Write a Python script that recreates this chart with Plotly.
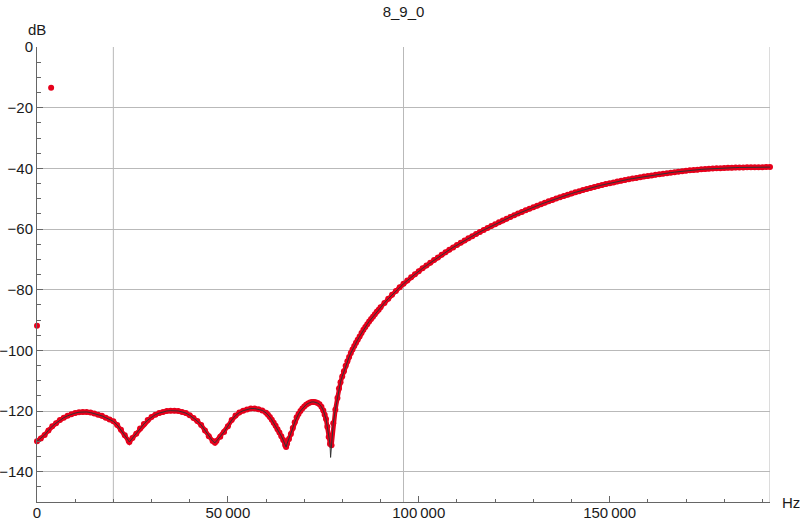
import plotly.graph_objects as go

title_text = "8_9_0"
x_label = "Hz"
y_label = "dB"

# Sampled response (frequency in kHz, level in dB)
curve_khz = [
    0, 1, 2, 3, 4, 5, 6, 7, 8, 9, 10, 11, 12, 13, 14, 15, 16, 17, 18, 19,
    20, 21, 22, 23, 24, 24.2, 25, 26, 27, 28, 29, 30, 31, 32, 33, 34, 35, 36, 37, 38,
    39, 40, 41, 42, 43, 44, 45, 46, 46.6, 47, 48, 49, 50, 51, 52, 53, 54, 55, 56, 57,
    58, 59,
    60, 60.5, 61, 61.5, 62, 62.5, 63, 63.5, 64, 64.5, 65, 65.25, 65.5, 66, 66.5, 67,
    67.5, 68, 68.5, 69, 69.5, 70, 70.5, 71, 71.5, 72, 72.5, 73, 73.5, 74, 74.5, 75,
    75.35, 75.7, 76.05, 76.4, 76.75, 77.15, 77.6, 78.15, 78.7, 79.1, 79.5, 79.95,
    80.4, 80.85, 81.3, 81.75, 82.2, 82.65, 83.1, 83.55, 84, 84.5, 85, 85.5, 86, 86.5,
    87, 87.5, 88, 88.5, 89, 89.5, 90,
    91, 92, 93, 94, 95, 96, 97, 98, 99, 100, 101, 102, 103, 104, 105, 106, 107, 108,
    109, 110, 111, 112, 113, 114, 115, 116, 117, 118, 119, 120, 121, 122, 123, 124,
    125, 126, 127, 128, 129, 130, 131, 132, 133, 134, 135, 136, 137, 138, 139, 140,
    141, 142, 143, 144, 145, 146, 147, 148, 149, 150, 151, 152, 153, 154, 155, 156,
    157, 158, 159, 160, 161, 162, 163, 164, 165, 166, 167, 168, 169, 170, 171, 172,
    173, 174, 175, 176, 177, 178, 179, 180, 181, 182, 183, 184, 185, 186, 187, 188,
    189, 190, 191, 192,
]
curve_db = [
    -130.0, -129.1, -127.9, -126.4, -125.0, -124.0, -123.0, -122.2, -121.6, -121.1,
    -120.7, -120.4, -120.3, -120.3, -120.5, -120.8, -121.2, -121.6, -122.2, -122.8,
    -123.4, -124.6, -126.2, -128.0, -129.8, -130.2, -128.9, -127.5, -125.8, -124.3,
    -123.0, -122.0, -121.2, -120.7, -120.3, -120.0, -119.9, -119.9, -120.0, -120.3,
    -120.7, -121.4, -122.3, -123.3, -124.6, -126.4, -128.3, -129.9, -130.5, -129.9,
    -128.5, -126.9, -125.0, -123.0, -121.5, -120.5, -119.9, -119.5, -119.2, -119.2,
    -119.4, -119.8,
    -120.6, -121.2, -122.0, -122.9, -123.9, -124.9, -126.0, -127.1, -128.3, -129.6,
    -131.2, -131.9, -130.8, -129.2, -127.6, -125.6, -123.7, -122.1, -121.0, -120.0,
    -119.2, -118.5, -117.9, -117.5, -117.2, -117.0, -117.0, -117.1, -117.4, -117.8,
    -118.6, -119.8, -121.2, -122.6, -125.2, -128.6, -130.9, -131.3, -124.0, -119.6,
    -115.7, -112.6, -110.5, -108.6, -106.9, -105.1, -103.6, -102.2, -100.9, -99.7,
    -98.6, -97.5, -96.5, -95.4, -94.3, -93.2, -92.3, -91.4, -90.5, -89.7,
    -88.9, -88.1, -87.3, -86.6, -85.8,
    -84.36, -82.99, -81.69, -80.45, -79.24, -78.08, -76.97, -75.91, -74.89, -73.91,
    -72.96, -72.04, -71.14, -70.26, -69.39, -68.53, -67.69, -66.87, -66.07, -65.29,
    -64.53, -63.79, -63.07, -62.36, -61.66, -60.97, -60.32, -59.68, -59.05, -58.42,
    -57.80, -57.18, -56.60, -56.03, -55.47, -54.92, -54.38, -53.85, -53.33, -52.82,
    -52.32, -51.83, -51.35, -50.88, -50.42, -49.97, -49.54, -49.12, -48.71, -48.31,
    -47.92, -47.54, -47.17, -46.81, -46.46, -46.13, -45.81, -45.50, -45.20, -44.91,
    -44.63, -44.36, -44.10, -43.85, -43.61, -43.38, -43.16, -42.94, -42.73, -42.53,
    -42.33, -42.14, -41.95, -41.77, -41.59, -41.42, -41.25, -41.09, -40.94, -40.80,
    -40.67, -40.55, -40.44, -40.34, -40.25, -40.16, -40.08, -40.01, -39.95, -39.89,
    -39.84, -39.80, -39.76, -39.72, -39.69, -39.67, -39.65, -39.63, -39.62, -39.61,
    -39.60, -39.60,
]

# Extra point reached only by the joining line (deep notch between samples)
notch_khz = [76.9]
notch_db = [-135.3]

# Isolated samples (DC and test tone)
spur_khz = [0.0, 3.7]
spur_db = [-91.9, -13.4]

x_tick_vals = [0, 50000, 100000, 150000]
x_tick_text = ["0", "50\u2009000", "100\u2009000", "150\u2009000"]
x_grid_vals = [20000, 96000, 192000]
y_tick_vals = [0, -20, -40, -60, -80, -100, -120, -140]
y_tick_text = ["0", "\u221220", "\u221240", "\u221260", "\u221280", "\u2212100", "\u2212120", "\u2212140"]

RED = "#e6001b"
LINE = "#333333"
AXIS = "#666666"
GRID = "#b9b9b9"
TXT = "#1a1a1a"
FONT = "Liberation Sans, Arial, sans-serif"
FS = 15

curve_hz = [k * 1000 for k in curve_khz]
spur_hz = [k * 1000 for k in spur_khz]
line_pts = sorted(list(zip(curve_khz, curve_db)) + list(zip(notch_khz, notch_db)))
line_hz = [p[0] * 1000 for p in line_pts]
line_db = [p[1] for p in line_pts]

fig = go.Figure()
# red band joining the sample dots
fig.add_trace(go.Scatter(
    x=curve_hz, y=curve_db, mode="lines+markers",
    line=dict(color=RED, width=4.5),
    marker=dict(color=RED, size=6, line=dict(width=0)),
    cliponaxis=False, showlegend=False, hoverinfo="skip",
))
fig.add_trace(go.Scatter(
    x=spur_hz, y=spur_db, mode="markers",
    marker=dict(color=RED, size=6, line=dict(width=0)),
    cliponaxis=False, showlegend=False,
))
fig.add_trace(go.Scatter(
    x=line_hz, y=line_db, mode="lines",
    line=dict(color=LINE, width=1),
    showlegend=False, hoverinfo="skip",
))

for gx in x_grid_vals:
    fig.add_shape(type="line", xref="x", yref="paper", x0=gx, x1=gx, y0=0, y1=1,
                  line=dict(color=GRID, width=1), layer="below")

fig.update_layout(
    width=800, height=522, autosize=False,
    margin=dict(l=37, r=30, t=47, b=20, autoexpand=False),
    paper_bgcolor="white", plot_bgcolor="white",
    font=dict(family=FONT, size=FS, color=TXT),
    title=dict(text=title_text, x=0.5, xanchor="center", xref="paper",
               y=1 - 12 / 522, yref="container", yanchor="middle",
               font=dict(family=FONT, size=FS, color=TXT)),
    xaxis=dict(
        range=[0, 192000], showline=True, linecolor=AXIS, linewidth=1,
        tickvals=x_tick_vals, ticktext=x_tick_text, ticks="inside", ticklen=6,
        tickcolor=AXIS, tickwidth=1, showgrid=False, zeroline=False, automargin=False,
        ticklabelstandoff=-3,
        minor=dict(dtick=10000, tick0=0, ticks="inside", ticklen=3.5,
                   tickcolor=AXIS, showgrid=False),
        tickfont=dict(family=FONT, size=FS, color=TXT),
    ),
    yaxis=dict(
        range=[-150, 0], showline=True, linecolor=AXIS, linewidth=1,
        tickvals=y_tick_vals, ticktext=y_tick_text, ticks="inside", ticklen=6,
        tickcolor=AXIS, tickwidth=1, showgrid=True, gridcolor=GRID, gridwidth=1,
        zeroline=False, automargin=False,
        minor=dict(dtick=5, tick0=0, ticks="inside", ticklen=3.5,
                   tickcolor=AXIS, showgrid=False),
        tickfont=dict(family=FONT, size=FS, color=TXT),
    ),
    annotations=[
        dict(text=y_label, xref="paper", yref="paper", x=0, y=1, xanchor="center",
             yanchor="bottom", yshift=7, showarrow=False,
             font=dict(family=FONT, size=FS, color=TXT)),
        dict(text=x_label, xref="paper", yref="paper", x=1, y=0, xanchor="left",
             yanchor="middle", xshift=10, showarrow=False,
             font=dict(family=FONT, size=FS, color=TXT)),
    ],
)

fig.write_html("out.html", config={"displayModeBar": False},
               post_script="document.body.style.margin='0';document.body.style.overflow='hidden';")
